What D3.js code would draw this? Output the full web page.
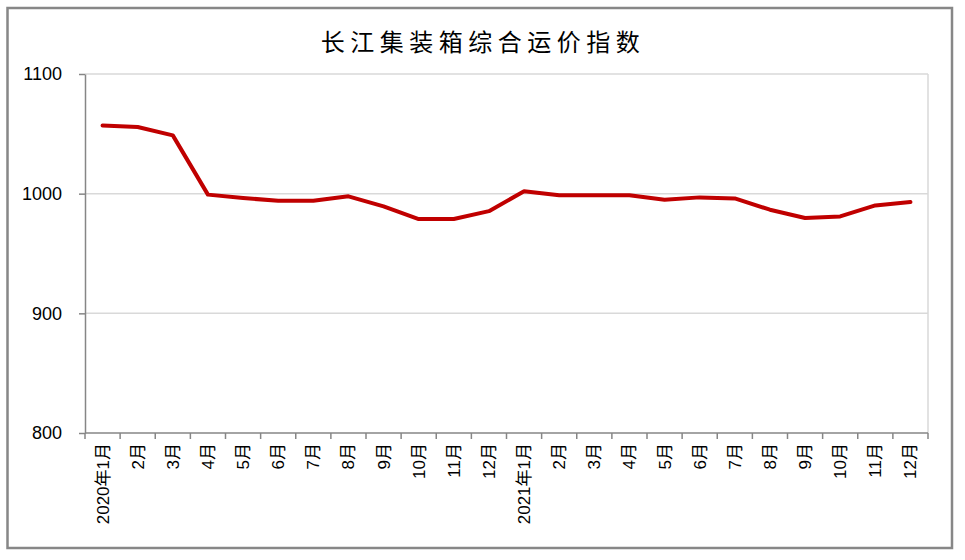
<!DOCTYPE html>
<html><head><meta charset="utf-8">
<script src="https://cdn.jsdelivr.net/npm/d3@7"></script>
<style>
html,body{margin:0;padding:0;background:#fff;}
svg{display:block;}
</style></head>
<body>
<svg id="chart" width="965" height="560"></svg>
<script>
const title = "长江集装箱综合运价指数";
const categories = ["2020年1月","2月","3月","4月","5月","6月","7月","8月","9月","10月","11月","12月",
                    "2021年1月","2月","3月","4月","5月","6月","7月","8月","9月","10月","11月","12月"];
const values = [1057,1055.7,1048.7,999.2,996.4,994,994,997.8,989.4,978.8,978.8,985.4,
                1002,998.6,998.6,998.6,995,996.9,996,986.6,979.7,981,990.2,993];
const yTicks = [800,900,1000,1100];

const svg = d3.select("#chart");
const W = 965, H = 560;
const m = {left:85, right:965-928, top:74, bottom:560-433};

// outer border
svg.append("rect").attr("x",7.5).attr("y",8).attr("width",944.5).attr("height",540)
  .attr("fill","#fff").attr("stroke","#878787").attr("stroke-width",2.5);

const x = d3.scaleBand().domain(categories.map((c,i)=>i)).range([m.left, W-m.right]).padding(0);
const y = d3.scaleLinear().domain([800,1100]).range([H-m.bottom, m.top]);

// gridlines
svg.append("g").selectAll("line").data(yTicks.filter(t=>t>800)).join("line")
  .attr("x1",m.left).attr("x2",W-m.right)
  .attr("y1",d=>y(d)).attr("y2",d=>y(d))
  .attr("stroke","#d9d9d9").attr("stroke-width",1.5);
// right border of plot area
svg.append("line").attr("x1",W-m.right).attr("x2",W-m.right).attr("y1",m.top).attr("y2",H-m.bottom)
  .attr("stroke","#d9d9d9").attr("stroke-width",1.5);

// y axis
const yAxis = d3.axisLeft(y).tickValues(yTicks).tickFormat(d3.format("d"))
  .tickSize(6).tickPadding(17).tickSizeOuter(0);
const gy = svg.append("g").attr("transform",`translate(${m.left},0)`).call(yAxis);
gy.select(".domain").attr("stroke","#868686").attr("stroke-width",1.5);
gy.selectAll(".tick line").attr("stroke","#868686").attr("stroke-width",1.5);
gy.selectAll(".tick text").attr("font-family","'Liberation Sans', Arial, sans-serif")
  .attr("font-size",18).attr("fill","#000");

// x axis: ticks at band boundaries
const gx = svg.append("g").attr("transform",`translate(0,${H-m.bottom})`);
gx.append("line").attr("x1",m.left).attr("x2",W-m.right).attr("y1",0).attr("y2",0)
  .attr("stroke","#868686").attr("stroke-width",1.5);
const bounds = categories.map((c,i)=>x(i)).concat([W-m.right]);
gx.selectAll("line.tk").data(bounds).join("line").attr("class","tk")
  .attr("x1",d=>d).attr("x2",d=>d).attr("y1",0).attr("y2",6)
  .attr("stroke","#868686").attr("stroke-width",1.5);
gx.selectAll("text").data(categories).join("text")
  .attr("transform",(d,i)=>`translate(${x(i)+x.bandwidth()/2+6},10) rotate(-90)`)
  .attr("text-anchor","end")
  .attr("font-family","'Liberation Sans', 'Noto Sans CJK SC', sans-serif")
  .attr("font-size",17).attr("fill","#000")
  .text(d=>d);

// line
const line = d3.line().x((d,i)=>x(i)+x.bandwidth()/2).y(d=>y(d));
svg.append("path").datum(values).attr("d",line)
  .attr("fill","none").attr("stroke","#c00000").attr("stroke-width",4)
  .attr("stroke-linejoin","round").attr("stroke-linecap","round");

// title
svg.append("text").attr("x",483).attr("y",51).attr("text-anchor","middle")
  .attr("font-family","'Noto Sans CJK SC', sans-serif").attr("font-size",24)
  .attr("letter-spacing",5.5).attr("fill","#000").text(title);
</script>
</body></html>
